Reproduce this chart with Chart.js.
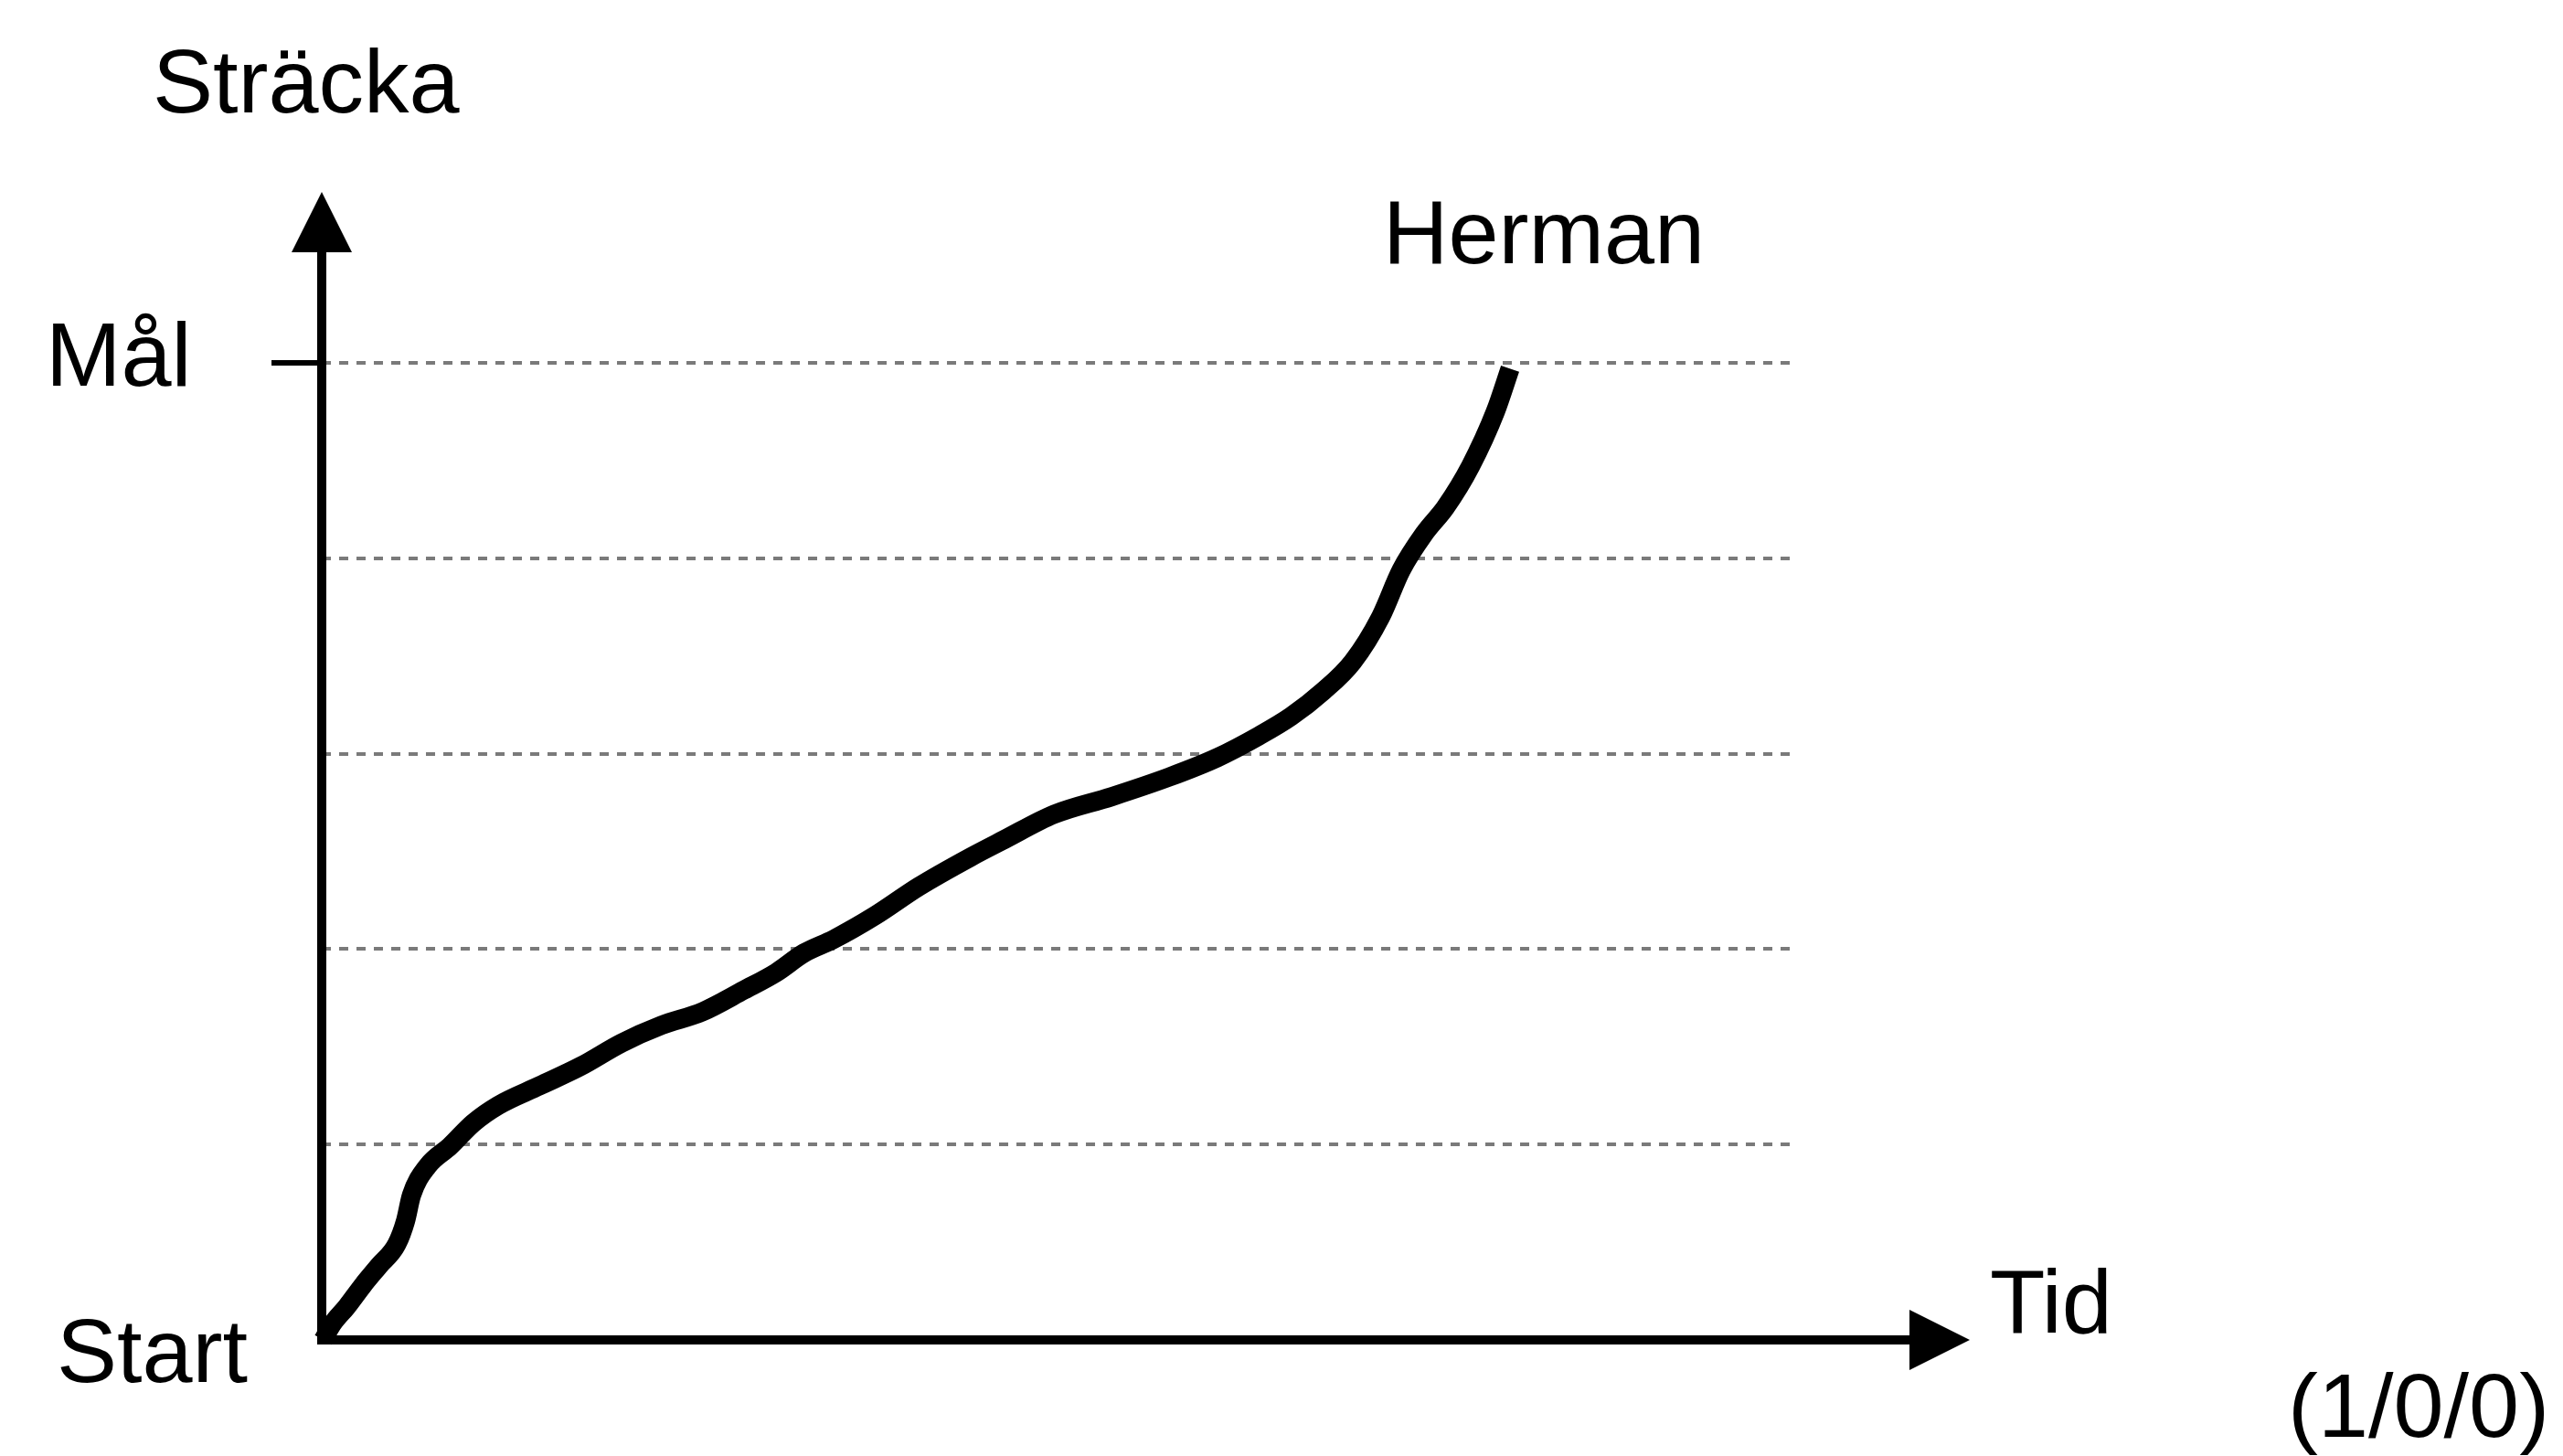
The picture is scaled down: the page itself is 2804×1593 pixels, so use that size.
<!DOCTYPE html>
<html>
<head>
<meta charset="utf-8">
<script src="https://cdn.jsdelivr.net/npm/chart.js@4.4.1/dist/chart.umd.min.js"></script>
<style>
  html, body { margin: 0; padding: 0; background: #fff; }
  #wrap { width: 2804px; height: 1593px; position: relative; }
</style>
</head>
<body>
<div id="wrap"><canvas id="chart"></canvas></div>
<script>
// Hermans lopp: tid (x) mot sträcka (y), 0 = Start, 5 = Mål
const tid = [0.1, 0.7, 1.7, 2.8, 3.9, 5.1, 5.7, 6.1, 7.2, 8.7, 10.3, 12.0, 14.8, 17.6, 20.4,
  23.1, 25.9, 28.7, 30.9, 32.8, 34.8, 37.6, 40.6, 44.1, 46.4, 49.8, 53.7, 57.6, 60.9, 63.7,
  65.9, 68.1, 70.1, 72.0, 73.4, 75.0, 76.4, 78.1, 79.8, 80.8];
const stracka = [0.0, 0.08, 0.17, 0.28, 0.38, 0.49, 0.61, 0.74, 0.89, 0.99, 1.11, 1.20, 1.30, 1.40, 1.52,
  1.61, 1.68, 1.79, 1.88, 1.98, 2.05, 2.17, 2.32, 2.47, 2.56, 2.69, 2.78, 2.88, 2.98, 3.09,
  3.19, 3.32, 3.47, 3.70, 3.94, 4.13, 4.26, 4.47, 4.75, 4.97];
const gridNivaer = [1, 2, 3, 4, 5]; // streckade linjer
const FONT = '99px "Liberation Sans", Arial, sans-serif';

// axlar med pilar + Mål-streck
const axlar = {
  id: 'axlar',
  beforeDatasetsDraw(chart) {
    const ctx = chart.ctx;
    const a = chart.chartArea;
    const x0 = a.left, y0 = a.bottom;
    ctx.save();
    ctx.strokeStyle = '#000';
    ctx.fillStyle = '#000';
    ctx.lineWidth = 10;
    ctx.lineCap = 'butt';
    // y-axel
    ctx.beginPath();
    ctx.moveTo(x0, y0 + 5);
    ctx.lineTo(x0, 270);
    ctx.stroke();
    ctx.beginPath();
    ctx.moveTo(x0, 210);
    ctx.lineTo(x0 - 33, 276);
    ctx.lineTo(x0 + 33, 276);
    ctx.closePath();
    ctx.fill();
    // x-axel
    ctx.beginPath();
    ctx.moveTo(x0 - 5, y0);
    ctx.lineTo(2095, y0);
    ctx.stroke();
    ctx.beginPath();
    ctx.moveTo(2155, y0);
    ctx.lineTo(2089, y0 - 33);
    ctx.lineTo(2089, y0 + 33);
    ctx.closePath();
    ctx.fill();
    // Mål-streck
    const ym = chart.scales.y.getPixelForValue(5);
    ctx.lineWidth = 6;
    ctx.beginPath();
    ctx.moveTo(297, ym);
    ctx.lineTo(x0, ym);
    ctx.stroke();
    ctx.restore();
  },
  afterDraw(chart) {
    const ctx = chart.ctx;
    ctx.save();
    ctx.fillStyle = '#000';
    ctx.font = FONT;
    ctx.textBaseline = 'alphabetic';
    ctx.textAlign = 'left';
    ctx.fillText('Sträcka', 167, 123);
    ctx.fillText('Mål', 50, 422);
    ctx.fillText('Herman', 1513, 288);
    ctx.fillText('Start', 62, 1512);
    ctx.fillText('Tid', 2177, 1458);
    ctx.fillText('(1/0/0)', 2503, 1572);
    ctx.restore();
  }
};

new Chart(document.getElementById('chart'), {
  type: 'scatter',
  plugins: [axlar],
  data: {
    datasets: [{
      data: tid.map((t, i) => ({ x: t, y: stracka[i] })),
      showLine: true,
      borderColor: '#000',
      borderWidth: 21,
      borderJoinStyle: 'round',
      cubicInterpolationMode: 'monotone',
      pointRadius: 0,
      clip: false
    }]
  },
  options: {
    responsive: true,
    maintainAspectRatio: false,
    animation: false,
    layout: { padding: { left: 352, right: 843, top: 397, bottom: 127 } },
    plugins: { legend: { display: false }, tooltip: { enabled: false } },
    scales: {
      x: {
        type: 'linear', min: 0, max: 100,
        display: false
      },
      y: {
        type: 'linear', min: 0, max: 5,
        afterBuildTicks: (s) => { s.ticks = [0].concat(gridNivaer).map(v => ({ value: v })); },
        border: { display: false, dash: [10, 9] },
        ticks: { display: false },
        grid: {
          drawTicks: false,
          color: (c) => c.tick && c.tick.value === 0 ? 'rgba(0,0,0,0)' : '#7a7a7a',
          lineWidth: 4
        }
      }
    }
  }
});
</script>
</body>
</html>
